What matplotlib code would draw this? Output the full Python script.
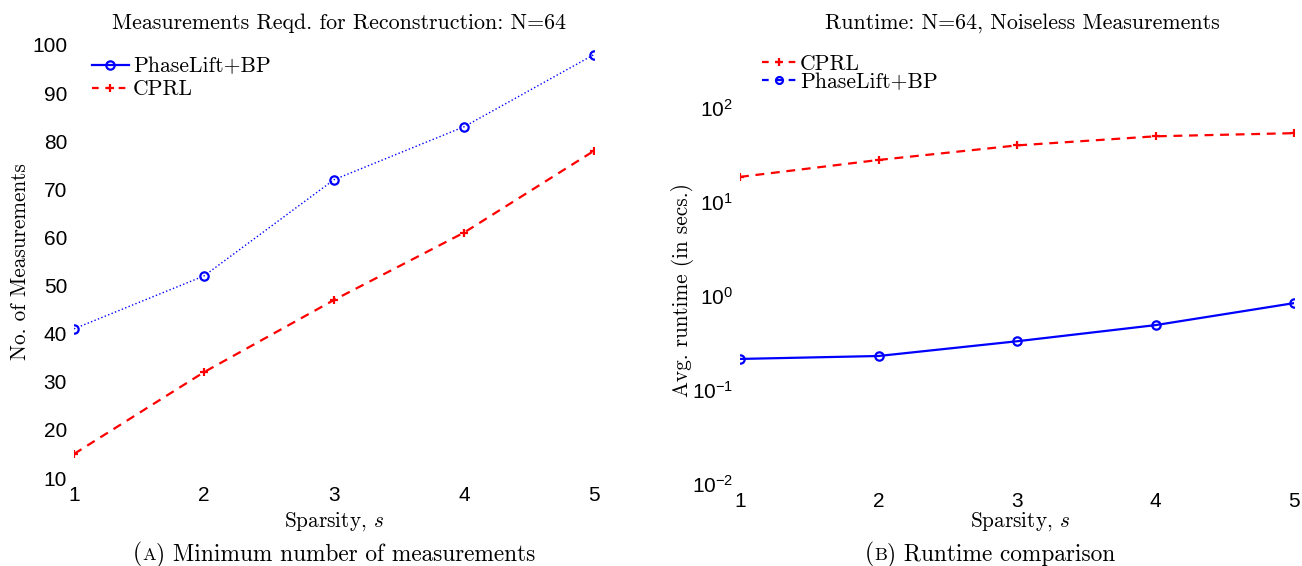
import matplotlib
matplotlib.use('Agg')
import matplotlib.pyplot as plt
from matplotlib.lines import Line2D
from matplotlib.ticker import FixedLocator, LogFormatterSciNotation, NullLocator

# ---------------- data ----------------
sparsity = [1, 2, 3, 4, 5]
meas_phaselift = [41, 52, 72, 83, 98]
meas_cprl = [15, 32, 47, 61, 78]
runtime_cprl = [18.5, 28, 40, 50, 54]
runtime_phaselift = [0.214, 0.23, 0.33, 0.49, 0.84]
left_yticks = [10, 20, 30, 40, 50, 60, 70, 80, 90, 100]
right_yticks = [1e-2, 1e-1, 1e0, 1e1, 1e2]
label_pl = 'PhaseLift+BP'
label_cprl = 'CPRL'

plt.rcParams['mathtext.fontset'] = 'cm'
SERIF = 'cmr10'
SANS = 'Liberation Sans'
W, H = 1302, 566
TICK_FS = 15
TITLE_FS = 15.8
LABEL_FS = 15.3
LEG_FS = 15.6
CAP_FS = 16.8

fig = plt.figure(figsize=(W / 100, H / 100), dpi=100)
ax1 = fig.add_axes([74 / W, (H - 478) / H, 520 / W, 433 / H])
ax2 = fig.add_axes([740 / W, (H - 484) / H, 554 / W, 376 / H])

def fy(y):
    return 1 - y / H

for ax in (ax1, ax2):
    for s in ax.spines.values():
        s.set_visible(False)
    ax.tick_params(length=0, labelsize=TICK_FS)
    ax.set_xlim(1, 5)
    ax.set_xticks(sparsity)

# ---------- left panel ----------
ax1.plot(sparsity, meas_phaselift, color='blue', ls=':', lw=1.0,
         marker='o', ms=6, mfc='none', mec='blue', mew=1.6)
ax1.plot(sparsity, meas_cprl, color='red', ls=(0, (4, 3)), lw=1.6,
         marker='+', ms=6, mew=1.6)
ax1.set_ylim(10, 100)
ax1.set_yticks(left_yticks)
ax1.tick_params(axis='y', pad=5)
ax1.tick_params(axis='x', pad=6)

ax1.set_xlabel('Sparsity, $s$', family=SERIF, fontsize=LABEL_FS)
ax1.xaxis.set_label_coords(334 / W, fy(522), transform=fig.transFigure)
ax1.xaxis.label.set_va('center')
ax1.set_ylabel('No. of Measurements', family=SERIF, fontsize=LABEL_FS)
ax1.yaxis.set_label_coords(20 / W, fy(262), transform=fig.transFigure)
ax1.yaxis.label.set_va('center')
fig.text(339 / W, fy(23), 'Measurements Reqd. for Reconstruction: N=64',
         family=SERIF, fontsize=TITLE_FS, ha='center', va='center')

h1 = [Line2D([], [], color='blue', ls='-', lw=1.6, marker='o', ms=6,
             mfc='none', mec='blue', mew=1.6),
      Line2D([], [], color='red', ls=(0, (3, 3)), lw=1.6, marker='+', ms=6, mew=1.6)]
fig.legend(h1, [label_pl, label_cprl], loc='upper left',
           bbox_to_anchor=(92 / W, fy(57)), frameon=False,
           prop={'family': SERIF, 'size': LEG_FS}, borderpad=0,
           borderaxespad=0, handlelength=1.7, handletextpad=0.2,
           labelspacing=0.15)

# ---------- right panel ----------
ax2.set_yscale('log')
ax2.plot(sparsity, runtime_cprl, color='red', ls=(0, (4, 3)), lw=1.6,
         marker='+', ms=6, mew=1.6)
ax2.plot(sparsity, runtime_phaselift, color='blue', ls='-', lw=1.6,
         marker='o', ms=6, mfc='none', mec='blue', mew=1.6)
ax2.set_ylim(1e-2, 1e2)
ax2.yaxis.set_major_locator(FixedLocator(right_yticks))
ax2.yaxis.set_minor_locator(NullLocator())
ax2.yaxis.set_major_formatter(LogFormatterSciNotation())
ax2.tick_params(axis='y', pad=5)
ax2.tick_params(axis='x', pad=6)

ax2.set_xlabel('Sparsity, $s$', family=SERIF, fontsize=LABEL_FS)
ax2.xaxis.set_label_coords(1020 / W, fy(522), transform=fig.transFigure)
ax2.xaxis.label.set_va('center')
ax2.set_ylabel('Avg. runtime (in secs.)', family=SERIF, fontsize=LABEL_FS)
ax2.yaxis.set_label_coords(682 / W, fy(290), transform=fig.transFigure)
ax2.yaxis.label.set_va('center')
fig.text(1022 / W, fy(23), 'Runtime: N=64, Noiseless Measurements',
         family=SERIF, fontsize=TITLE_FS, ha='center', va='center')

h2 = [Line2D([], [], color='red', ls=(0, (3, 3)), lw=1.6, marker='+', ms=6, mew=1.6),
      Line2D([], [], color='blue', ls=(0, (3, 3)), lw=1.6, marker='o', ms=5,
             mfc='none', mec='blue', mew=1.6)]
fig.legend(h2, [label_cprl, label_pl], loc='upper left',
           bbox_to_anchor=(762 / W, fy(54)), frameon=False,
           prop={'family': SERIF, 'size': LEG_FS}, borderpad=0,
           borderaxespad=0, handlelength=1.55, handletextpad=0.2,
           labelspacing=-0.05)

for ax in (ax1, ax2):
    for lab in ax.get_xticklabels() + ax.get_yticklabels():
        lab.set_fontfamily(SANS)

# ---------- sub-captions with small caps ----------
def caption(xc, yc, letter, rest, fs=CAP_FS):
    parts = [('(', fs), (letter, fs * 0.78), (') ' + rest, fs)]
    texts = [fig.text(0, fy(yc), t, family=SERIF, fontsize=s, va='baseline')
             for t, s in parts]
    fig.canvas.draw()
    r = fig.canvas.get_renderer()
    widths = [t.get_window_extent(r).width for t in texts]
    x = xc - sum(widths) / 2
    for t, w in zip(texts, widths):
        t.set_x(x / W)
        x += w

caption(334, 560, 'A', 'Minimum number of measurements')
caption(990, 560, 'B', 'Runtime comparison')

fig.savefig('out.png', dpi=100)
